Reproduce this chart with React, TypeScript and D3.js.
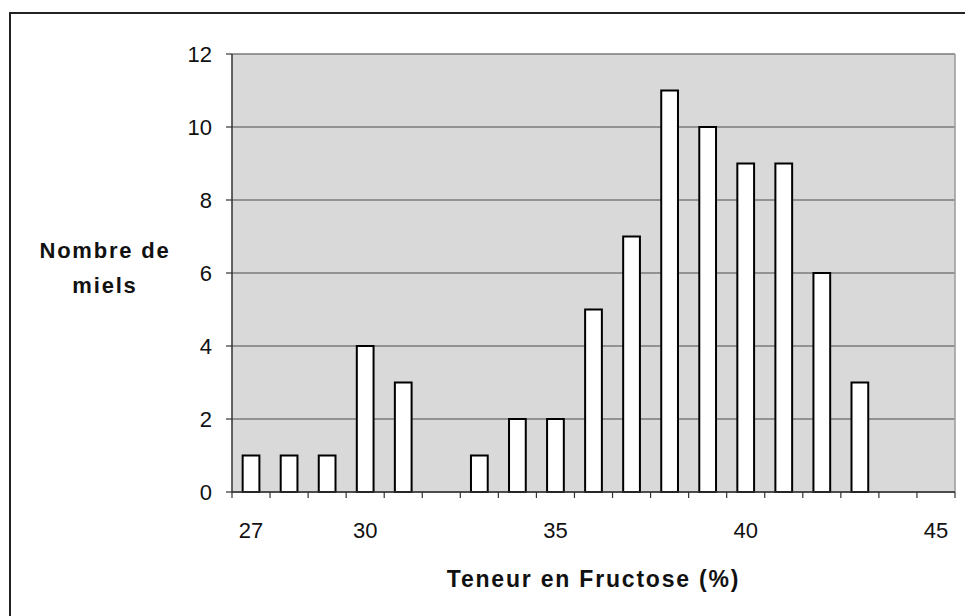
import React from "react";
import * as d3 from "d3";

const categories = [27, 28, 29, 30, 31, 32, 33, 34, 35, 36, 37, 38, 39, 40, 41, 42, 43, 44, 45];
const counts = [1, 1, 1, 4, 3, 0, 1, 2, 2, 5, 7, 11, 10, 9, 9, 6, 3, 0, 0];
const yTicks = [0, 2, 4, 6, 8, 10, 12];
const xLabels = [27, 30, 35, 40, 45];
const yTitle = ["Nombre de", "miels"];
const xTitle = "Teneur en Fructose (%)";

export default function App() {
  const W = 965, H = 616;
  const left = 232, right = 955, top = 54, bottom = 492;
  const x = d3.scaleBand<number>().domain(categories).range([left, right]).padding(0);
  const y = d3.scaleLinear().domain([0, 12]).range([bottom, top]);
  const bw = x.bandwidth() * 0.44;
  const font = "'Liberation Sans', Arial, sans-serif";
  return (
    <svg width={W} height={H} style={{ position: "absolute", left: 0, top: 0 }}>
      <rect x={0} y={0} width={W} height={H} fill="#fff" />
      <line x1={9} y1={13} x2={W} y2={13} stroke="#222" strokeWidth={2} />
      <line x1={10} y1={13} x2={10} y2={H} stroke="#222" strokeWidth={2} />
      <rect x={left} y={top} width={right - left} height={bottom - top} fill="#d9d9d9" />
      {yTicks.map((t) => (
        <line key={"g" + t} x1={left} x2={right} y1={y(t)} y2={y(t)} stroke="#7a7a7a" strokeWidth={1.5} />
      ))}
      <line x1={right} x2={right} y1={top} y2={bottom} stroke="#9a9a9a" strokeWidth={1.5} />
      {categories.map((c, i) => {
        const v = counts[i];
        if (v <= 0) return null;
        const cx = (x(c) as number) + x.bandwidth() / 2;
        return (
          <rect key={c} x={cx - bw / 2} y={y(v)} width={bw} height={y(0) - y(v)} fill="#fff" stroke="#000" strokeWidth={2} />
        );
      })}
      <line x1={left} x2={left} y1={top} y2={bottom + 1} stroke="#333" strokeWidth={1.5} />
      <line x1={left} x2={right} y1={bottom} y2={bottom} stroke="#333" strokeWidth={1.5} />
      {yTicks.map((t) => (
        <g key={"t" + t}>
          <line x1={left - 6} x2={left} y1={y(t)} y2={y(t)} stroke="#333" strokeWidth={1.2} />
          <text x={left - 20} y={y(t)} dy="0.36em" textAnchor="end" fontFamily={font} fontSize={22} fill="#111">{t}</text>
        </g>
      ))}
      {categories.concat([46]).map((c, i) => {
        const xx = left + i * x.step();
        return <line key={"xt" + i} x1={xx} x2={xx} y1={bottom} y2={bottom + 6} stroke="#333" strokeWidth={1.2} />;
      })}
      {xLabels.map((c) => (
        <text key={"xl" + c} x={(x(c) as number) + x.bandwidth() / 2} y={538} textAnchor="middle" fontFamily={font} fontSize={22} fill="#111">{c}</text>
      ))}
      {yTitle.map((s, i) => (
        <text key={"yt" + i} x={105} y={258 + i * 35} textAnchor="middle" fontFamily={font} fontWeight="bold" fontSize={22} letterSpacing={1.8} fill="#111">{s}</text>
      ))}
      <text x={(left + right) / 2} y={587} textAnchor="middle" fontFamily={font} fontWeight="bold" fontSize={23} letterSpacing={1.8} fill="#111">{xTitle}</text>
    </svg>
  );
}
